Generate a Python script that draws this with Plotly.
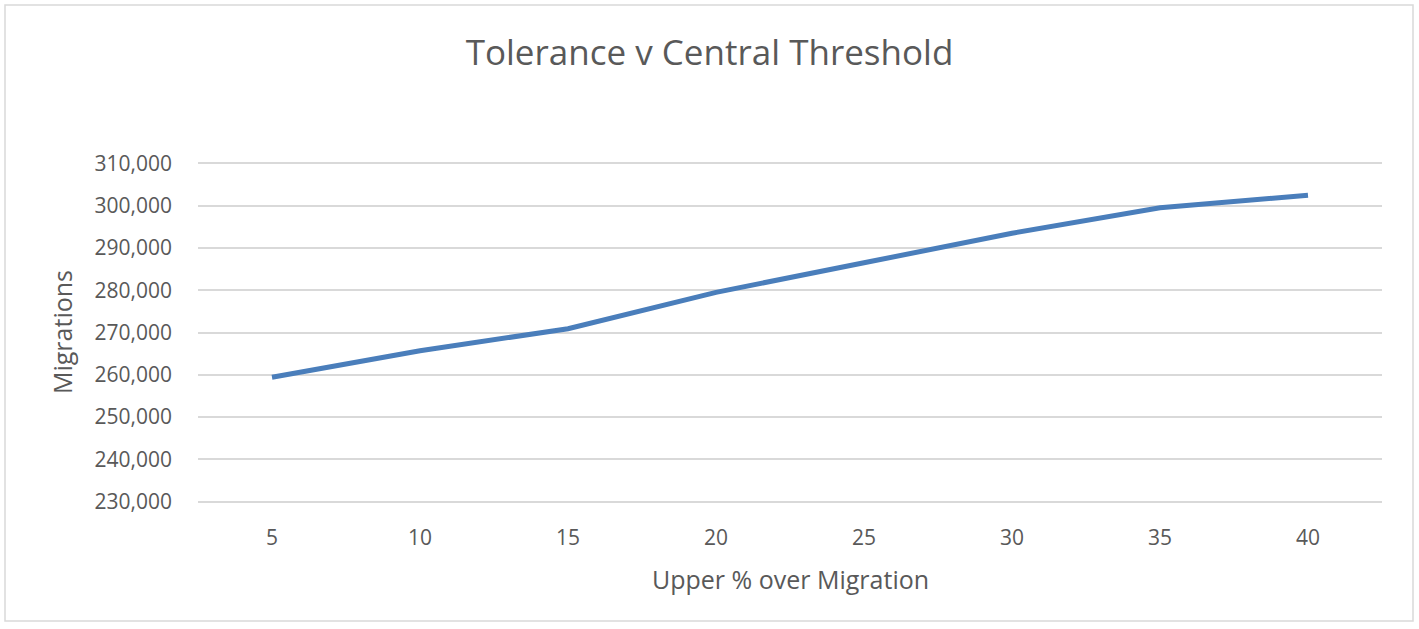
import plotly.graph_objects as go

categories = ["5", "10", "15", "20", "25", "30", "35", "40"]
migrations = [259400, 265700, 270900, 279500, 286500, 293500, 299500, 302500]
y_ticks = [230000, 240000, 250000, 260000, 270000, 280000, 290000, 300000, 310000]

TXT = "#595959"
FONT = "Open Sans"

W, H = 1419, 629
L, R, T, B = 198, 37, 162, 126
PW, PH = W - L - R, H - T - B

fig = go.Figure()
fig.add_trace(go.Scatter(
    x=categories, y=migrations, mode="lines",
    line=dict(color="#4a7ebb", width=5),
    showlegend=False, hoverinfo="x+y",
))

fig.update_layout(
    width=W, height=H,
    paper_bgcolor="white", plot_bgcolor="white",
    margin=dict(l=L, r=R, t=T, b=B),
    title=dict(text="Tolerance v Central Threshold", x=0.5, xanchor="center",
               y=1 - 53 / H, yanchor="middle",
               font=dict(family=FONT, size=35, color=TXT)),
    font=dict(family=FONT, color=TXT),
    xaxis=dict(
        type="category", range=[-0.5, 7.5],
        showgrid=False, zeroline=False, showline=False, ticks="",
        tickfont=dict(family=FONT, size=21, color=TXT),
        ticklabelstandoff=20,
    ),
    yaxis=dict(
        range=[229650, 310350], tickvals=y_ticks,
        tickformat=",d",
        showgrid=True, gridcolor="#d9d9d9", gridwidth=1.5,
        zeroline=False, showline=False, ticks="",
        tickfont=dict(family=FONT, size=21, color=TXT),
        ticklabelstandoff=25,
    ),
)

# axis titles
fig.add_annotation(text="Upper % over Migration", xref="paper", yref="paper",
                   x=0.5, y=(T + PH - 579) / PH, xanchor="center", yanchor="middle",
                   showarrow=False, font=dict(family=FONT, size=25, color=TXT))
fig.add_annotation(text="Migrations", xref="paper", yref="paper",
                   x=(62 - L) / PW, y=(T + PH - 332) / PH, xanchor="center", yanchor="middle",
                   textangle=-90, showarrow=False,
                   font=dict(family=FONT, size=25, color=TXT))

# outer chart border
fig.add_shape(type="rect", xref="paper", yref="paper",
              x0=(5 - L) / PW, x1=(1413 - L) / PW,
              y0=(T + PH - 621) / PH, y1=(T + PH - 5) / PH,
              line=dict(color="#d9d9d9", width=1.5), fillcolor="rgba(0,0,0,0)",
              layer="below")

fig.write_html("out.html", config={"displayModeBar": False},
               post_script="document.body.style.margin='0';")
